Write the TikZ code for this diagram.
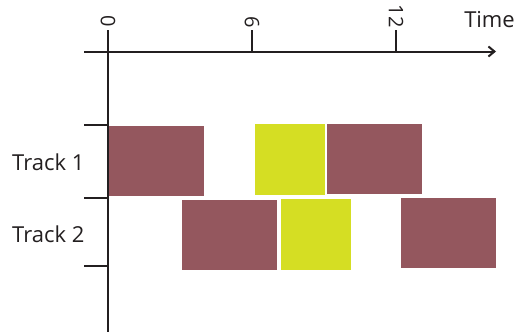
\documentclass[tikz,border=0pt]{standalone}
\usepackage{fontspec}
\setmainfont{Open Sans}
\usetikzlibrary{arrows.meta}
\definecolor{maroon}{RGB}{148,87,94}
\definecolor{lime}{RGB}{213,222,35}
\definecolor{ink}{RGB}{35,31,32}
\begin{document}
\begin{tikzpicture}[x=1pt,y=-1pt,
  axis/.style={draw=ink,line width=2pt},
  tickmark/.style={draw=ink,line width=2pt},
  lbl/.style={text=ink,font=\fontsize{22}{26}\selectfont,inner sep=0pt},
  num/.style={text=ink,font=\fontsize{20}{24}\selectfont,inner sep=0pt,rotate=-90,anchor=east}]
\useasboundingbox (0,0) rectangle (517,332);
% blocks
\fill[maroon] (108,126) rectangle (204,196);
\fill[maroon] (182,200) rectangle (277,270);
\fill[lime] (255,124) rectangle (325,195);
\fill[maroon] (327,124) rectangle (422,194);
\fill[lime] (281,199) rectangle (351,270);
\fill[maroon] (401,198) rectangle (496,268);
% axes
\coordinate (hx0) at (84,51.5);
\coordinate (hx1) at (496,51.5);
\coordinate (vy0) at (108,30);
\coordinate (vy1) at (108,332);
\draw[axis,-{Straight Barb[length=6pt,width=10pt,line width=2pt]}] (hx0) -- (hx1);
\draw[axis] (vy0) -- (vy1);
% top ticks
\coordinate (t6a) at (252,51.5); \coordinate (t6b) at (252,30);
\coordinate (t12a) at (396,51.5); \coordinate (t12b) at (396,30);
\draw[tickmark] (t6a) -- (t6b);
\draw[tickmark] (t12a) -- (t12b);
\node[num] (n0) at (108,27) {0};
\node[num] (n6) at (252,28) {6};
\node[num] (n12) at (396,28) {12};
\node[lbl,anchor=east] (time) at (515,20) {Time};
% left ticks
\coordinate (l1a) at (84,124.5); \coordinate (l1b) at (108,124.5);
\coordinate (l2a) at (84,197.5); \coordinate (l2b) at (108,197.5);
\coordinate (l3a) at (84,266); \coordinate (l3b) at (108,266);
\draw[tickmark] (l1a) -- (l1b);
\draw[tickmark] (l2a) -- (l2b);
\draw[tickmark] (l3a) -- (l3b);
\node[lbl,anchor=west] (tr1) at (12,162) {Track 1};
\node[lbl,anchor=west] (tr2) at (12,234) {Track 2};
\end{tikzpicture}
\end{document}
